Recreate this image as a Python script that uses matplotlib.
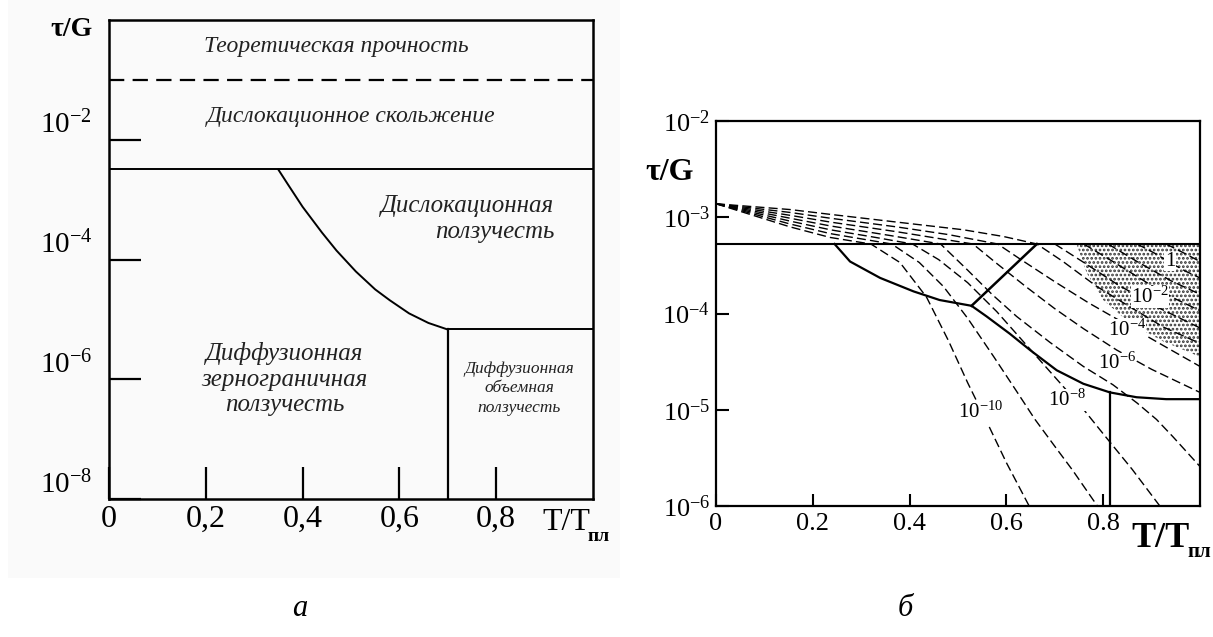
import numpy as np
import matplotlib
matplotlib.use('Agg')
import matplotlib.pyplot as plt
from matplotlib.patches import Rectangle
from matplotlib.ticker import FixedLocator, FixedFormatter, NullLocator

plt.rcParams['font.family'] = ['Liberation Serif', 'DejaVu Serif']
plt.rcParams['mathtext.fontset'] = 'custom'
plt.rcParams['mathtext.rm'] = 'Liberation Serif'
plt.rcParams['mathtext.it'] = 'Liberation Serif:italic'
plt.rcParams['mathtext.bf'] = 'Liberation Serif:bold'
plt.rcParams['lines.scale_dashes'] = False
plt.rcParams['hatch.linewidth'] = 1.3

# ---------------- panel a (schematic map) ----------------
a_xticks = [0, 0.2, 0.4, 0.6, 0.8]
a_xticklabels = ['0', '0,2', '0,4', '0,6', '0,8']
a_yticks = [1e-2, 1e-4, 1e-6, 1e-8]
a_yticklabels = ['$10^{-2}$', '$10^{-4}$', '$10^{-6}$', '$10^{-8}$']
a_theor_level = 1e-1        # dashed line
a_glide_level = 3.2e-3      # solid horizontal
a_lattice_level = 6.8e-6    # lower horizontal
a_split_T = 0.70            # vertical boundary
a_curve_T = [0.35, 0.37, 0.40, 0.44, 0.47, 0.51, 0.55, 0.58, 0.62, 0.66, 0.70]
a_curve_log = [-2.5, -2.75, -3.12, -3.55, -3.85, -4.2, -4.5, -4.68, -4.9, -5.06, -5.17]

# ---------------- panel b (Ashby map) ----------------
b_xticks = [0, 0.2, 0.4, 0.6, 0.8]
b_xticklabels = ['0', '0.2', '0.4', '0.6', '0.8']
b_yticks = [1e-2, 1e-3, 1e-4, 1e-5, 1e-6]
b_yticklabels = ['$10^{-2}$', '$10^{-3}$', '$10^{-4}$', '$10^{-5}$', '$10^{-6}$']
b_glide_log = -3.278
b_bound_T = [0.245, 0.277, 0.339, 0.408, 0.462, 0.528, 0.559, 0.607, 0.649,
             0.704, 0.759, 0.814, 0.869, 0.93, 1.0]
b_bound_log = [-3.278, -3.46, -3.63, -3.77, -3.86, -3.92, -4.03, -4.21, -4.38,
               -4.59, -4.73, -4.82, -4.87, -4.89, -4.89]
b_diag_T = [0.528, 0.663]
b_diag_log = [-3.92, -3.278]
b_split_T = 0.814
b_split_top_log = -4.82
b_stip_T = [0.745, 1.0, 1.0, 0.924, 0.855, 0.80, 0.766]
b_stip_log = [-3.278, -3.278, -4.45, -4.29, -4.10, -3.86, -3.58]

# strain-rate contours (T/Tm, log10 tau/G)
c_p1_T = [0.93, 0.97, 1.0]
c_p1_log = [-3.278, -3.38, -3.46]
c_0_T = [0.87, 0.905, 0.938, 0.97, 1.0]
c_0_log = [-3.278, -3.37, -3.47, -3.56, -3.63]
c_m1_T = [0.81, 0.87, 0.94, 1.0]
c_m1_log = [-3.278, -3.46, -3.66, -3.80]
c_m2_T = [0.76, 0.82, 0.897, 0.95, 1.0]
c_m2_log = [-3.278, -3.46, -3.70, -3.85, -3.97]
c_m3_T = [0.70, 0.76, 0.83, 0.91, 1.0]
c_m3_log = [-3.278, -3.47, -3.70, -3.93, -4.15]
c_m4_T = [0, 0.153, 0.236, 0.373, 0.511, 0.594, 0.663, 0.717, 0.787, 0.855, 0.924, 1.0]
c_m4_log = [-2.86, -2.92, -2.97, -3.05, -3.13, -3.20, -3.278, -3.46, -3.72, -3.93, -4.14, -4.31]
c_m5_T = [0, 0.153, 0.236, 0.373, 0.48, 0.582, 0.63, 0.70, 0.77, 0.85, 0.93, 1.0]
c_m5_log = [-2.86, -2.95, -3.01, -3.10, -3.18, -3.278, -3.44, -3.67, -3.89, -4.12, -4.35, -4.55]
c_m6_T = [0, 0.153, 0.236, 0.373, 0.531, 0.58, 0.64, 0.70, 0.76, 0.828, 0.90, 0.95, 1.0]
c_m6_log = [-2.86, -2.98, -3.05, -3.15, -3.278, -3.48, -3.72, -3.95, -4.16, -4.38, -4.58, -4.70, -4.82]
c_m7_T = [0, 0.153, 0.236, 0.36, 0.464, 0.52, 0.57, 0.621, 0.69, 0.759, 0.82, 0.87, 0.91, 0.944, 1.0]
c_m7_log = [-2.86, -3.01, -3.09, -3.19, -3.278, -3.55, -3.80, -4.03, -4.30, -4.55, -4.74, -4.93, -5.10, -5.28, -5.59]
c_m8_T = [0, 0.153, 0.236, 0.33, 0.406, 0.46, 0.52, 0.58, 0.64, 0.70, 0.76, 0.80, 0.86, 0.917]
c_m8_log = [-2.86, -3.04, -3.13, -3.21, -3.278, -3.44, -3.68, -3.98, -4.32, -4.66, -5.00, -5.25, -5.62, -6.0]
c_m9_T = [0, 0.153, 0.236, 0.363, 0.42, 0.47, 0.52, 0.574, 0.62, 0.659, 0.70, 0.737, 0.788]
c_m9_log = [-2.86, -3.07, -3.17, -3.278, -3.47, -3.72, -4.05, -4.45, -4.80, -5.10, -5.38, -5.63, -6.0]
c_m10_T = [0, 0.153, 0.236, 0.32, 0.38, 0.435, 0.48, 0.52, 0.56, 0.60, 0.647]
c_m10_log = [-2.86, -3.10, -3.21, -3.278, -3.47, -3.83, -4.28, -4.72, -5.13, -5.55, -6.0]

rate_labels = ['1', '$10^{-2}$', '$10^{-4}$', '$10^{-6}$', '$10^{-8}$', '$10^{-10}$']
rate_label_T = [0.938, 0.897, 0.849, 0.828, 0.726, 0.547]
rate_label_log = [-3.46, -3.83, -4.17, -4.52, -4.90, -5.03]

contours = [(c_p1_T, c_p1_log), (c_0_T, c_0_log), (c_m1_T, c_m1_log), (c_m2_T, c_m2_log),
            (c_m3_T, c_m3_log), (c_m4_T, c_m4_log), (c_m5_T, c_m5_log), (c_m6_T, c_m6_log),
            (c_m7_T, c_m7_log), (c_m8_T, c_m8_log), (c_m9_T, c_m9_log), (c_m10_T, c_m10_log)]

W, H = 1213, 637
fig = plt.figure(figsize=(W / 100, H / 100), dpi=100)
fig.patch.set_facecolor('white')
fig.patches.append(Rectangle((8 / W, 1 - 578 / H), 612 / W, 578 / H, transform=fig.transFigure,
                             facecolor='#fafafa', edgecolor='none', zorder=-5))

# ======== panel a ========
ax1 = fig.add_axes([109 / W, 1 - 499 / H, 484 / W, 479 / H])
ax1.set_facecolor('none')
ax1.set_yscale('log')
ax1.set_xlim(0, 1.0)
ax1.set_ylim(1e-8, 1e0)
for s in ax1.spines.values():
    s.set_linewidth(1.8)

ax1.axhline(a_theor_level, color='black', lw=1.6, dashes=(11, 6))
ax1.axhline(a_glide_level, color='black', lw=1.4)
ax1.plot(a_curve_T, 10.0 ** np.array(a_curve_log), color='black', lw=1.4)
ax1.plot([a_split_T, 1.0], [a_lattice_level, a_lattice_level], color='black', lw=1.4)
ax1.plot([a_split_T, a_split_T], [1e-8, a_lattice_level], color='black', lw=1.6)

ax1.xaxis.set_major_locator(FixedLocator(a_xticks))
ax1.xaxis.set_major_formatter(FixedFormatter(a_xticklabels))
ax1.yaxis.set_major_locator(FixedLocator(a_yticks))
ax1.yaxis.set_major_formatter(FixedFormatter(a_yticklabels))
ax1.yaxis.set_minor_locator(NullLocator())
ax1.tick_params(axis='both', direction='in', length=23, width=1.6, color='black')
ax1.tick_params(axis='x', labelsize=23, pad=4)
ax1.tick_params(axis='y', labelsize=21, pad=12)
for lab in ax1.get_yticklabels():
    lab.set_verticalalignment('bottom')

txt = dict(ha='center', va='center', style='italic', color='#222222')
ax1.text(0.47, 10 ** -0.45, 'Теоретическая прочность', fontsize=17, **txt)
ax1.text(0.50, 10 ** -1.62, 'Дислокационное скольжение', fontsize=17, **txt)
ax1.text(0.92, 10 ** -3.32, 'Дислокационная\nползучесть', fontsize=18, ha='right', va='center',
         style='italic', color='#222222', linespacing=1.25)
ax1.text(0.363, 10 ** -6.0, 'Диффузионная\nзернограничная\nползучесть', fontsize=18,
         linespacing=1.2, **txt)
ax1.text(0.847, 10 ** -6.15, 'Диффузионная\nобъемная\nползучесть', fontsize=12.5,
         linespacing=1.3, **txt)

fig.text(93 / W, 1 - 30 / H, 'τ/G', fontsize=20, fontweight='bold', ha='right', va='center')
fig.text(542 / W, 1 - 530 / H, 'T/T', fontsize=23, ha='left', va='baseline')
fig.text(588 / W, 1 - 541 / H, 'пл', fontsize=14, fontweight='bold', ha='left', va='baseline')

# ======== panel b ========
ax2 = fig.add_axes([716 / W, 1 - 506 / H, 484 / W, 385 / H])
ax2.set_yscale('log')
ax2.set_xlim(0, 1.0)
ax2.set_ylim(1e-6, 1e-2)
for s in ax2.spines.values():
    s.set_linewidth(1.6)

# stippled area (high strain-rate region)
ax2.fill(b_stip_T, 10.0 ** np.array(b_stip_log), facecolor='none', edgecolor='#333333',
         hatch='....', linewidth=0, zorder=1)

for cT, clog in contours:
    ax2.plot(cT, 10.0 ** np.array(clog), color='black', lw=1.0, dashes=(6.5, 3), zorder=2)

ax2.axhline(10 ** b_glide_log, color='black', lw=1.5, zorder=3)
ax2.plot(b_bound_T, 10.0 ** np.array(b_bound_log), color='black', lw=1.6, zorder=3)
ax2.plot(b_diag_T, 10.0 ** np.array(b_diag_log), color='black', lw=1.8, zorder=3)
ax2.plot([b_split_T, b_split_T], [1e-6, 10 ** b_split_top_log], color='black', lw=1.6, zorder=3)

for lab, tT, tl in zip(rate_labels, rate_label_T, rate_label_log):
    ax2.text(tT, 10 ** tl, lab, fontsize=15, ha='center', va='center', zorder=4,
             bbox=dict(facecolor='white', edgecolor='none', pad=0.3))

ax2.xaxis.set_major_locator(FixedLocator(b_xticks))
ax2.xaxis.set_major_formatter(FixedFormatter(b_xticklabels))
ax2.yaxis.set_major_locator(FixedLocator(b_yticks))
ax2.yaxis.set_major_formatter(FixedFormatter(b_yticklabels))
ax2.yaxis.set_minor_locator(NullLocator())
ax2.tick_params(axis='both', direction='in', length=9, width=1.5, color='black', labelsize=19)
ax2.tick_params(axis='x', pad=5)
ax2.tick_params(axis='y', pad=4)

fig.text(670 / W, 1 - 172 / H, 'τ/G', fontsize=23, fontweight='bold', ha='center', va='center')
fig.text(1131 / W, 1 - 547 / H, 'T/T', fontsize=26, fontweight='bold', ha='left', va='baseline')
fig.text(1187 / W, 1 - 557 / H, 'пл', fontsize=15, fontweight='bold', ha='left', va='baseline')

# captions
fig.text(300 / W, 1 - 608 / H, 'а', fontsize=22, style='italic', ha='center', va='center')
fig.text(905 / W, 1 - 608 / H, 'б', fontsize=22, style='italic', ha='center', va='center')

fig.savefig('out.png', dpi=100)
